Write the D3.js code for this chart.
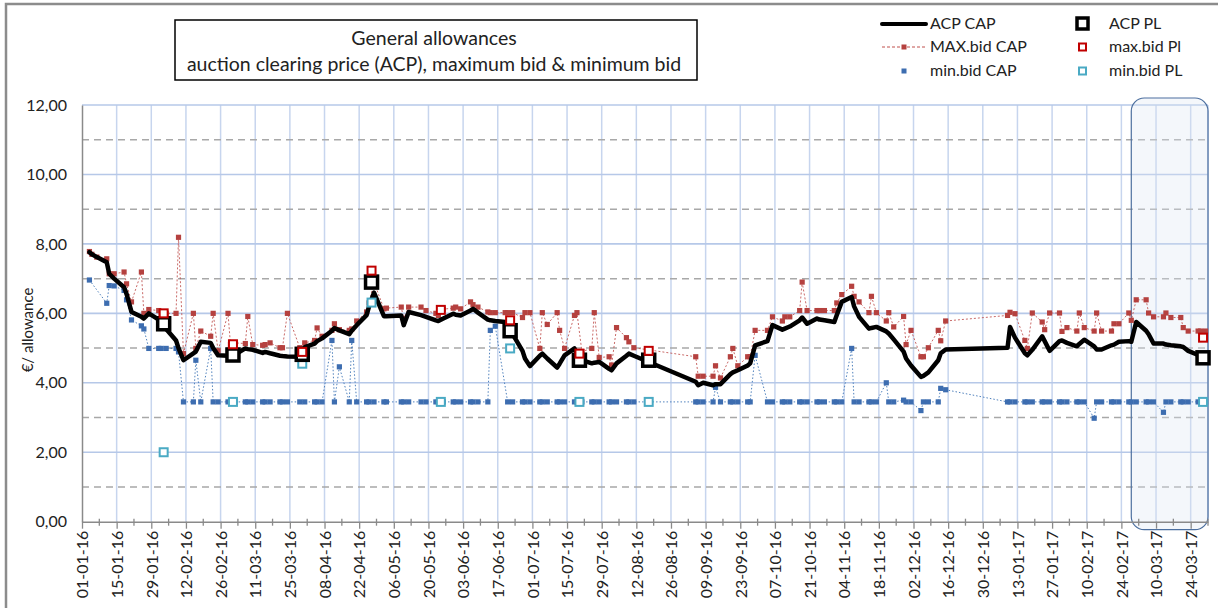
<!DOCTYPE html>
<html><head><meta charset="utf-8">
<script src="https://cdn.jsdelivr.net/npm/d3@7"></script>
<style>body{margin:0;background:#fff;} text{font-family:Lato,"Open Sans",sans-serif;fill:#222;}</style>
</head><body>
<script>
// ---------------- DATA ----------------
const tickLabels = ["01-01-16","15-01-16","29-01-16","12-02-16","26-02-16","11-03-16","25-03-16","08-04-16","22-04-16","06-05-16","20-05-16","03-06-16","17-06-16","01-07-16","15-07-16","29-07-16","12-08-16","26-08-16","09-09-16","23-09-16","07-10-16","21-10-16","04-11-16","18-11-16","02-12-16","16-12-16","30-12-16","13-01-17","27-01-17","10-02-17","24-02-17","10-03-17","24-03-17"];
const yTicks = [0,2,4,6,8,10,12];
const yMinor = [1,3,5,7,9,11];

// CAP auction dates
const capDates = [
 "2016-01-04","2016-01-05","2016-01-07","2016-01-11","2016-01-12","2016-01-14","2016-01-18","2016-01-19","2016-01-21","2016-01-25","2016-01-26","2016-01-28",
 "2016-02-01","2016-02-02","2016-02-04","2016-02-08","2016-02-09","2016-02-11","2016-02-15","2016-02-16","2016-02-18","2016-02-22","2016-02-23","2016-02-25","2016-02-29",
 "2016-03-01","2016-03-03","2016-03-07","2016-03-08","2016-03-10","2016-03-14","2016-03-15","2016-03-17","2016-03-21","2016-03-22","2016-03-24","2016-03-29","2016-03-31",
 "2016-04-04","2016-04-05","2016-04-07","2016-04-11","2016-04-12","2016-04-14","2016-04-18","2016-04-19","2016-04-21","2016-04-25","2016-04-26","2016-04-28",
 "2016-05-02","2016-05-03","2016-05-09","2016-05-10","2016-05-12","2016-05-17","2016-05-19","2016-05-23","2016-05-24","2016-05-26","2016-05-30","2016-05-31",
 "2016-06-02","2016-06-06","2016-06-07","2016-06-09","2016-06-13","2016-06-14","2016-06-16","2016-06-20","2016-06-21","2016-06-23","2016-06-27","2016-06-28","2016-06-30",
 "2016-07-04","2016-07-05","2016-07-07","2016-07-11","2016-07-12","2016-07-14","2016-07-18","2016-07-19","2016-07-21","2016-07-25","2016-07-26","2016-07-28",
 "2016-08-01","2016-08-02","2016-08-04","2016-08-08","2016-08-09","2016-08-11",
 "2016-09-05","2016-09-06","2016-09-08","2016-09-12","2016-09-13","2016-09-15","2016-09-19","2016-09-20","2016-09-22","2016-09-26","2016-09-27","2016-09-29",
 "2016-10-04","2016-10-06","2016-10-10","2016-10-11","2016-10-13","2016-10-17","2016-10-18","2016-10-20","2016-10-24","2016-10-25","2016-10-27","2016-10-31",
 "2016-11-01","2016-11-03","2016-11-07","2016-11-08","2016-11-10","2016-11-14","2016-11-15","2016-11-17","2016-11-21","2016-11-22","2016-11-24","2016-11-28","2016-11-29",
 "2016-12-01","2016-12-05","2016-12-06","2016-12-08","2016-12-12","2016-12-13","2016-12-15",
 "2017-01-09","2017-01-10","2017-01-12","2017-01-16","2017-01-17","2017-01-19","2017-01-23","2017-01-24","2017-01-26","2017-01-30","2017-01-31",
 "2017-02-02","2017-02-06","2017-02-07","2017-02-09","2017-02-13","2017-02-14","2017-02-16","2017-02-20","2017-02-21","2017-02-23","2017-02-27","2017-02-28",
 "2017-03-02","2017-03-06","2017-03-07","2017-03-09","2017-03-13","2017-03-14","2017-03-16","2017-03-20","2017-03-21","2017-03-23","2017-03-27","2017-03-28","2017-03-30"
];
// ACP CAP (auction clearing price)
const acpCap = [
 7.76,7.70,7.62,7.47,7.14,7.00,6.75,6.56,6.04,5.90,5.85,6.00,
 5.82,5.72,5.55,5.22,5.00,4.65,4.85,4.90,5.18,5.15,5.00,4.79,4.78,
 4.80,4.82,4.99,4.97,4.95,4.86,4.89,4.85,4.78,4.77,4.76,4.75,5.03,
 5.13,5.20,5.28,5.50,5.58,5.51,5.40,5.50,5.66,5.95,6.20,6.60,
 5.92,5.92,5.94,5.66,6.04,5.95,5.90,5.80,5.78,5.85,5.99,5.96,
 5.94,6.08,6.13,6.02,5.82,5.80,5.78,5.75,5.70,5.40,4.92,4.70,4.48,
 4.78,4.84,4.70,4.44,4.55,4.79,4.99,4.85,4.65,4.56,4.58,4.60,
 4.40,4.36,4.56,4.78,4.84,4.78,
 4.03,3.93,4.00,3.93,3.96,3.96,4.25,4.30,4.36,4.50,4.56,5.08,
 5.20,5.66,5.53,5.56,5.62,5.80,5.88,5.70,5.85,5.82,5.80,5.75,
 5.95,6.33,6.47,6.20,5.90,5.56,5.58,5.61,5.48,5.42,5.25,4.90,4.70,
 4.50,4.17,4.20,4.30,4.65,4.85,4.96,
 5.01,5.61,5.30,4.85,4.79,4.95,5.34,5.20,4.92,5.20,5.22,
 5.15,5.05,5.12,5.24,5.05,4.96,4.96,5.08,5.10,5.18,5.20,5.18,
 5.75,5.50,5.40,5.13,5.13,5.10,5.08,5.05,5.03,4.92,4.80,4.72,4.72
];
// maximum bid CAP
const maxBidCap = [
 7.78,7.70,7.62,7.57,7.14,7.14,7.19,6.85,6.33,7.19,6.00,6.11,
 6.08,6.00,6.00,6.00,8.19,4.84,6.00,4.99,5.49,5.34,6.00,4.92,6.00,
 5.10,5.15,5.13,5.91,5.10,5.08,5.10,5.15,5.01,5.01,6.00,5.01,5.15,
 5.22,5.58,5.34,5.51,5.70,5.53,5.51,5.55,5.78,6.04,6.30,6.90,
 6.13,6.15,6.18,5.85,6.18,6.18,6.08,6.00,5.94,6.12,6.15,6.18,
 6.13,6.33,6.25,6.18,6.04,6.02,6.02,6.02,6.02,6.02,5.88,6.02,6.02,
 4.99,6.02,5.68,6.02,5.51,4.99,5.94,6.02,4.90,4.99,6.02,4.73,
 4.75,4.51,5.59,5.30,5.18,5.01,
 4.75,4.19,4.19,4.19,4.49,4.14,4.75,4.99,4.49,4.75,4.75,5.51,
 5.51,5.90,5.78,5.90,5.90,6.08,6.90,6.08,6.08,6.08,6.08,6.08,
 6.30,6.54,6.78,6.49,6.33,6.02,6.49,6.02,5.78,6.02,5.61,5.91,5.10,
 5.51,4.75,4.75,5.01,5.51,5.21,5.78,
 5.94,6.03,5.99,5.22,4.99,6.01,5.75,5.53,6.01,6.01,5.48,
 5.59,5.49,6.01,5.59,5.49,6.01,5.49,5.49,5.70,5.70,6.01,5.80,
 6.39,6.39,6.01,5.90,5.90,6.01,5.88,5.88,5.59,5.49,5.49,5.49,5.49
];
// minimum bid CAP (null = no value shown)
const minBidCap = [
 6.96,null,null,6.29,6.80,6.79,6.66,6.39,5.81,5.64,5.55,4.99,
 4.99,4.99,4.99,4.99,4.89,3.45,3.45,4.65,3.45,4.99,3.45,3.45,3.45,
 3.45,3.45,3.45,3.45,3.45,3.45,3.45,3.45,3.45,3.45,3.45,3.45,3.45,
 3.45,3.45,3.45,5.22,3.45,4.46,3.45,5.22,3.45,3.45,3.45,3.45,
 3.45,3.45,3.45,3.45,3.45,3.45,3.45,3.45,3.45,3.45,3.45,3.45,
 3.45,3.45,3.45,3.45,3.45,5.51,5.63,null,3.45,3.45,3.45,3.45,3.45,
 3.45,3.45,3.45,3.45,3.45,3.45,3.45,3.45,3.45,3.45,3.45,3.45,
 3.45,3.45,3.45,3.45,3.45,3.45,
 3.45,3.45,3.45,3.45,3.87,3.45,3.45,3.45,3.45,3.45,3.45,4.79,
 3.45,3.45,3.45,3.45,3.45,3.45,3.45,3.45,3.45,3.45,3.45,3.45,
 3.45,3.45,4.99,3.45,3.45,3.45,3.45,3.45,4.00,3.45,3.45,3.50,3.45,
 3.45,3.20,3.45,3.45,3.45,3.84,3.80,
 3.45,3.45,3.45,3.45,3.45,3.45,3.45,3.45,3.45,3.45,3.45,
 3.45,3.45,3.45,3.45,2.98,3.45,3.45,3.45,3.45,3.45,3.45,3.45,
 3.45,3.45,3.45,3.45,3.15,3.45,3.45,3.45,3.45,3.45,3.45,3.45,3.45
];
// Polish (PL) auctions
const plDates = ["2016-02-03","2016-03-02","2016-03-30","2016-04-27","2016-05-25","2016-06-22","2016-07-20","2016-08-17","2017-03-29"];
const acpPl    = [5.70,4.80,4.82,6.90,null,5.50,4.65,4.65,4.72];
const maxBidPl = [6.00,5.11,4.89,7.23,6.10,5.80,4.84,4.92,5.30];
const minBidPl = [2.00,3.45,4.55,6.31,3.45,4.99,3.45,3.45,3.45];

const highlightRange = ["2017-02-28","2017-03-31"];

// ---------------- CHART ----------------
const W = 1218, H = 608;
const parseISO = d3.utcParse("%Y-%m-%d");
const parseTick = d3.utcParse("%d-%m-%y");
const svg = d3.select("body").append("svg").attr("width", W).attr("height", H);

const x = d3.scaleUtc().domain([parseISO("2016-01-01"), parseISO("2017-03-31")]).range([82, 1208]);
const y = d3.scaleLinear().domain([0, 12]).range([521.7, 105]);
const fmt = v => v.toFixed(2).replace(".", ",");

// outer frame
svg.append("rect").attr("x", 6).attr("y", 4).attr("width", W).attr("height", H)
  .attr("fill", "none").attr("stroke", "#8c8c8c").attr("stroke-width", 2.5);

const tickDates = tickLabels.map(parseTick);
const [x0, x1] = x.range();

// vertical grid
svg.append("g").selectAll("line").data(tickDates.slice(1).concat([x.domain()[1]])).join("line")
  .attr("x1", d => x(d)).attr("x2", d => x(d)).attr("y1", y(0)).attr("y2", y(12))
  .attr("stroke", "#c7d5ee").attr("stroke-width", 1.5);
// horizontal grid (solid major, dashed minor)
svg.append("g").selectAll("line").data(yTicks.slice(1)).join("line")
  .attr("x1", x0).attr("x2", x1).attr("y1", d => y(d)).attr("y2", d => y(d))
  .attr("stroke", "#b6c8e8").attr("stroke-width", 1.6);
svg.append("g").selectAll("line").data(yMinor).join("line")
  .attr("x1", x0).attr("x2", x1).attr("y1", d => y(d)).attr("y2", d => y(d))
  .attr("stroke", "#a8a8a8").attr("stroke-width", 1.5).attr("stroke-dasharray", "7,5");

// highlight box
const hx0 = x(parseISO(highlightRange[0])), hx1 = x(parseISO(highlightRange[1]));
svg.append("rect").attr("x", hx0).attr("y", y(12) - 7).attr("width", hx1 - hx0).attr("height", y(0) - y(12) + 15)
  .attr("rx", 13).attr("ry", 13)
  .attr("fill", "#dce5f4").attr("fill-opacity", 0.32).attr("stroke", "#4c6f9f").attr("stroke-width", 1.2);

// axes
const xAxis = d3.axisBottom(x).tickValues(tickDates).tickFormat((d, i) => tickLabels[i]).tickSize(7).tickSizeOuter(0);
const gx = svg.append("g").attr("transform", `translate(0,${y(0)})`).call(xAxis);
gx.select(".domain").attr("stroke", "#8a8a8a").attr("stroke-width", 1.5);
gx.selectAll(".tick line").attr("stroke", "#8a8a8a").attr("stroke-width", 1.3);
gx.selectAll("text").attr("transform", "rotate(-90)").attr("x", -9).attr("y", 0).attr("dy", "0.36em")
  .style("text-anchor", "end").style("font-size", "16px").style("font-family", "Lato").attr("fill", "#222");
// minor ticks (half way between labels)
svg.append("g").selectAll("line").data(tickDates.map(d => d3.utcDay.offset(d, 7))).join("line")
  .attr("x1", d => x(d)).attr("x2", d => x(d)).attr("y1", y(0) - 3).attr("y2", y(0) + 4)
  .attr("stroke", "#8a8a8a").attr("stroke-width", 1.3);

const yAxis = d3.axisLeft(y).tickValues(yTicks).tickFormat(fmt).tickSize(0).tickPadding(15);
const gy = svg.append("g").attr("transform", `translate(${x0},0)`).call(yAxis);
gy.select(".domain").attr("stroke", "#8a8a8a").attr("stroke-width", 1.5);
gy.selectAll("text").style("font-size", "16px").style("font-family", "Lato").attr("fill", "#222");

svg.append("text").attr("transform", `translate(33,330) rotate(-90)`).attr("text-anchor", "middle")
  .style("font-size", "15px").text("€/ allowance");

// series data
const cap = capDates.map((d, i) => ({ date: parseISO(d), acp: acpCap[i], max: maxBidCap[i], min: minBidCap[i] }));
const pl = plDates.map((d, i) => ({ date: parseISO(d), acp: acpPl[i], max: maxBidPl[i], min: minBidPl[i] }));

function seriesLine(key) {
  return d3.line().x(d => x(d.date)).y(d => y(d[key]));
}
const plot = svg.append("g");
const maxCol = "#b5413f", minCol = "#3d6db0", tealCol = "#4aaac4", redCol = "#c00000";

// max bid CAP
const maxData = cap.filter(d => d.max != null);
plot.append("path").datum(maxData).attr("d", seriesLine("max")).attr("fill", "none")
  .attr("stroke", "#c0504d").attr("stroke-opacity", 0.85).attr("stroke-width", 1).attr("stroke-dasharray", "2,2");
plot.append("g").selectAll("rect").data(maxData).join("rect")
  .attr("x", d => x(d.date) - 2.6).attr("y", d => y(d.max) - 2.6).attr("width", 5.2).attr("height", 5.2).attr("fill", maxCol);

// min bid CAP
const minData = cap.filter(d => d.min != null);
plot.append("path").datum(minData).attr("d", seriesLine("min")).attr("fill", "none")
  .attr("stroke", "#4f81bd").attr("stroke-width", 1).attr("stroke-dasharray", "1.5,2");
plot.append("g").selectAll("rect").data(minData).join("rect")
  .attr("x", d => x(d.date) - 2.6).attr("y", d => y(d.min) - 2.6).attr("width", 5.2).attr("height", 5.2).attr("fill", minCol);

// ACP CAP
plot.append("path").datum(cap).attr("d", seriesLine("acp")).attr("fill", "none")
  .attr("stroke", "#000").attr("stroke-width", 4.5).attr("stroke-linejoin", "round").attr("stroke-linecap", "round");

// PL markers
plot.append("g").selectAll("rect").data(pl.filter(d => d.min != null)).join("rect")
  .attr("x", d => x(d.date) - 4).attr("y", d => y(d.min) - 4).attr("width", 8).attr("height", 8)
  .attr("fill", "#fff").attr("stroke", tealCol).attr("stroke-width", 2);
plot.append("g").selectAll("rect").data(pl.filter(d => d.acp != null)).join("rect")
  .attr("x", d => x(d.date) - 6).attr("y", d => y(d.acp) - 6).attr("width", 12).attr("height", 12)
  .attr("fill", "#fff").attr("stroke", "#000").attr("stroke-width", 3.5);
plot.append("g").selectAll("rect").data(pl.filter(d => d.max != null)).join("rect")
  .attr("x", d => x(d.date) - 4).attr("y", d => y(d.max) - 4).attr("width", 8).attr("height", 8)
  .attr("fill", "#fff").attr("stroke", redCol).attr("stroke-width", 2);

// title box
svg.append("rect").attr("x", 175).attr("y", 20).attr("width", 522).attr("height", 60)
  .attr("fill", "#fff").attr("stroke", "#000").attr("stroke-width", 1.5);
svg.append("text").attr("x", 434).attr("y", 45).attr("text-anchor", "middle").style("font-size", "19.5px").text("General  allowances");
svg.append("text").attr("x", 434).attr("y", 71).attr("text-anchor", "middle").style("font-size", "19.5px")
  .text("auction clearing price (ACP),  maximum bid & minimum bid");

// legend
const lg = svg.append("g").style("font-size", "16px");
lg.append("line").attr("x1", 882).attr("x2", 926).attr("y1", 24).attr("y2", 24).attr("stroke", "#000").attr("stroke-width", 4).attr("stroke-linecap", "round");
lg.append("text").attr("x", 930).attr("y", 29).text("ACP CAP");
lg.append("line").attr("x1", 882).attr("x2", 926).attr("y1", 47).attr("y2", 47).attr("stroke", "#c0504d").attr("stroke-width", 1).attr("stroke-dasharray", "3,2");
lg.append("rect").attr("x", 901.5).attr("y", 44.5).attr("width", 5).attr("height", 5).attr("fill", maxCol);
lg.append("text").attr("x", 930).attr("y", 52).text("MAX.bid CAP");
lg.append("rect").attr("x", 901.5).attr("y", 68.5).attr("width", 5).attr("height", 5).attr("fill", minCol);
lg.append("text").attr("x", 930).attr("y", 76).text("min.bid CAP");

lg.append("rect").attr("x", 1077).attr("y", 18).attr("width", 11).attr("height", 11).attr("fill", "#fff").attr("stroke", "#000").attr("stroke-width", 3.5);
lg.append("text").attr("x", 1109).attr("y", 29).text("ACP PL");
lg.append("rect").attr("x", 1079).attr("y", 43.5).attr("width", 7).attr("height", 7).attr("fill", "#fff").attr("stroke", redCol).attr("stroke-width", 2);
lg.append("text").attr("x", 1109).attr("y", 52).text("max.bid Pl");
lg.append("rect").attr("x", 1079).attr("y", 67.5).attr("width", 7).attr("height", 7).attr("fill", "#fff").attr("stroke", tealCol).attr("stroke-width", 2);
lg.append("text").attr("x", 1109).attr("y", 76).text("min.bid PL");
</script>
</body></html>
